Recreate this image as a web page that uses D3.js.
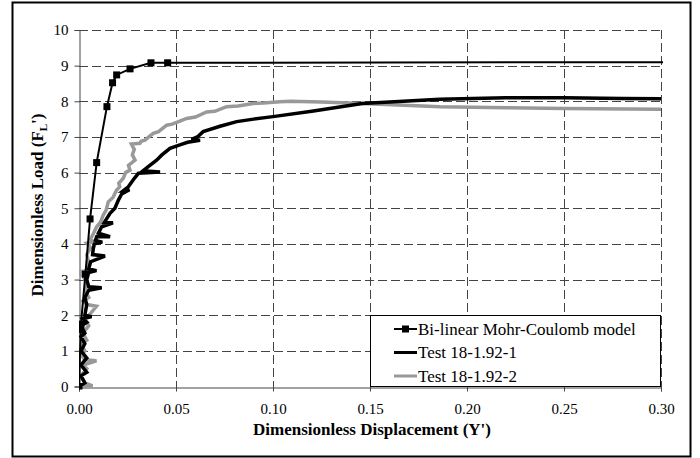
<!DOCTYPE html>
<html><head><meta charset="utf-8">
<script src="https://cdn.jsdelivr.net/npm/d3@7"></script>
<style>body{margin:0;background:#fff}svg{display:block}text{font-family:"Liberation Serif","Times New Roman",Times,serif}</style>
</head><body>
<svg id="c" width="700" height="458"></svg>
<script>
const xTicks = [0, 0.05, 0.10, 0.15, 0.20, 0.25, 0.30];
const yTicks = [0,1,2,3,4,5,6,7,8,9,10];
const seriesNames = ["Bi-linear Mohr-Coulomb model","Test 18-1.92-1","Test 18-1.92-2"];
const xTitle = "Dimensionless Displacement (Y')";
// model curve (markers), extends beyond 0.30 and is clipped
const modelX = [0, 0.0009, 0.001, 0.0033, 0.0057, 0.0091, 0.0144, 0.0173, 0.0194, 0.0263, 0.0371, 0.0457, 0.60];
const modelY = [0, 1.6, 1.75, 3.15, 4.7, 6.28, 7.85, 8.52, 8.74, 8.91, 9.08, 9.08, 9.12];
// Test 18-1.92-1
const test1X = [0,0.003,0.001,0.004,0.001,0.004,0.001,0.003,0.001,0.003,0.001,0.004,0.002,0.0065,0.003,0.004,0.003,0.005,0.0117,0.005,0.004,0.005,0.009,0.005,0.006,0.0134,0.007,0.0074,0.008,0.012,0.0085,0.0091,0.016,0.01,0.0117,0.0175,0.013,0.016,0.0185,0.0203,0.022,0.026,0.023,0.0254,0.028,0.0306,0.0418,0.033,0.0357,0.04,0.0426,0.0469,0.052,0.056,0.0624,0.058,0.061,0.064,0.0727,0.0813,0.09,0.1,0.12,0.146,0.186,0.22,0.25,0.28,0.30];
const test1Y = [0,0.1,0.3,0.4,0.6,0.8,1.0,1.2,1.4,1.5,1.7,1.8,1.9,1.96,2.0,2.3,2.5,2.7,2.77,2.8,3.0,3.2,3.25,3.3,3.5,3.66,3.7,3.88,4.0,4.05,4.1,4.2,4.2,4.3,4.48,4.59,4.6,4.86,5.0,5.23,5.4,5.52,5.5,5.6,5.8,5.98,6.02,6.05,6.17,6.35,6.49,6.68,6.78,6.85,6.91,6.93,7.0,7.15,7.3,7.43,7.5,7.57,7.72,7.94,8.06,8.1,8.1,8.08,8.07];
// Test 18-1.92-2
const test2X = [0.002,0.007,0.003,0.001,0.004,0.002,0.009,0.003,0.001,0.003,0.001,0.004,0.002,0.005,0.003,0.006,0.009,0.004,0.002,0.005,0.003,0.004,0.002,0,0.004,0.005,0.004,0.006,0.004,0.008,0.0057,0.0075,0.0091,0.011,0.0125,0.014,0.0151,0.0175,0.0194,0.021,0.0205,0.0228,0.024,0.0263,0.0255,0.0289,0.0275,0.0285,0.027,0.0314,0.032,0.034,0.036,0.0383,0.041,0.0452,0.048,0.051,0.0555,0.06,0.0658,0.07,0.0761,0.082,0.0897,0.095,0.1036,0.109,0.125,0.146,0.186,0.22,0.25,0.30];
const test2Y = [0,0.02,0.1,0.3,0.5,0.6,0.72,0.75,0.9,1.0,1.2,1.3,1.5,1.7,1.9,2.05,2.25,2.3,2.4,2.5,2.7,2.9,3.1,3.22,3.25,3.5,3.7,3.9,4.02,4.06,4.11,4.3,4.48,4.6,4.81,4.95,5.18,5.3,5.51,5.6,5.7,5.84,6.0,6.07,6.2,6.35,6.5,6.65,6.8,6.82,6.88,6.91,7.0,7.1,7.15,7.33,7.36,7.42,7.52,7.56,7.7,7.72,7.85,7.87,7.94,7.95,7.99,8.0,7.98,7.94,7.85,7.82,7.8,7.78];

const svg = d3.select("#c");
const L = 79, R = 661, T = 30, B = 386.5;
const x = d3.scaleLinear().domain([0, 0.30]).range([L, R]);
const y = d3.scaleLinear().domain([0, 10]).range([B, T]);
const serif = '"Liberation Serif","Times New Roman",Times,serif';

// outer frame
svg.append("rect").attr("x",12.5).attr("y",2.5).attr("width",678).attr("height",454)
  .attr("fill","#fff").attr("stroke","#000").attr("stroke-width",2);

// grid
const grid = svg.append("g").attr("stroke","#444").attr("stroke-width",1).attr("stroke-dasharray","9,4");
grid.selectAll("line.h").data(yTicks.filter(d=>d>0)).join("line")
  .attr("x1",L).attr("x2",R).attr("y1",d=>Math.round(y(d))+0.5).attr("y2",d=>Math.round(y(d))+0.5);
grid.selectAll("line.v").data(xTicks.filter(d=>d>0)).join("line")
  .attr("y1",T).attr("y2",B).attr("x1",d=>Math.round(x(d))+0.5).attr("x2",d=>Math.round(x(d))+0.5);

// axes
const yAxis = svg.append("g").attr("transform",`translate(${L+0.5},0)`)
  .call(d3.axisLeft(y).tickValues(yTicks).tickSize(5).tickPadding(6).tickFormat(d3.format("d")));
const xAxis = svg.append("g").attr("transform",`translate(0,${Math.round(B)+0.5})`)
  .call(d3.axisBottom(x).tickValues(xTicks).tickSize(4).tickPadding(12).tickFormat(d3.format(".2f")));
[yAxis, xAxis].forEach(a=>{
  a.attr("font-family",null);
  a.select(".domain").attr("stroke","#444");
  a.selectAll(".tick line").attr("stroke","#444");
  a.selectAll("text").style("font-family",serif).attr("font-size",15).attr("fill","#000");
});
xAxis.selectAll(".tick line").attr("y1",-4);

// clip
svg.append("clipPath").attr("id","pc").append("rect").attr("x",L).attr("y",T-3).attr("width",R-L+2).attr("height",B-T+6);
const plot = svg.append("g").attr("clip-path","url(#pc)");
const line = d3.line().x(d=>x(d[0])).y(d=>y(d[1]));
const t1 = test1X.map((v,i)=>[v,test1Y[i]]);
const t2 = test2X.map((v,i)=>[v,test2Y[i]]);
const md = modelX.map((v,i)=>[v,modelY[i]]);
plot.append("path").datum(t2).attr("d",line).attr("fill","none").attr("stroke","#999").attr("stroke-width",3.5).attr("stroke-linejoin","miter");
plot.append("path").datum(t1).attr("d",line).attr("fill","none").attr("stroke","#000").attr("stroke-width",3.5).attr("stroke-linejoin","miter");
plot.append("path").datum(md).attr("d",line).attr("fill","none").attr("stroke","#000").attr("stroke-width",2);
plot.selectAll("rect.m").data(md).join("rect").attr("class","m")
  .attr("x",d=>x(d[0])-3.5).attr("y",d=>y(d[1])-3.5).attr("width",7).attr("height",7).attr("fill","#000");

// legend
const lg = svg.append("g");
lg.append("rect").attr("x",370.5).attr("y",315.5).attr("width",290).attr("height",71).attr("fill","#fff").attr("stroke","#000").attr("stroke-width",1);
const lgY = [329, 352.5, 376];
const lgCol = ["#000","#000","#999"];
const lgW = [2,3,3];
seriesNames.forEach((n,i)=>{
  lg.append("line").attr("x1",394).attr("x2",417).attr("y1",lgY[i]).attr("y2",lgY[i]).attr("stroke",lgCol[i]).attr("stroke-width",lgW[i]);
  if(i===0) lg.append("rect").attr("x",402).attr("y",lgY[i]-3.5).attr("width",7).attr("height",7).attr("fill","#000");
  lg.append("text").attr("x",418).attr("y",lgY[i]).attr("dy","0.35em").style("font-family",serif).attr("font-size",17).text(n);
});

// axis titles
svg.append("text").attr("x",372).attr("y",435).attr("text-anchor","middle")
  .style("font-family",serif).attr("font-weight","bold").attr("font-size",17).text(xTitle);
const yt = svg.append("text").attr("transform","translate(43,205) rotate(-90)").attr("text-anchor","middle")
  .style("font-family",serif).attr("font-weight","bold").attr("font-size",17);
yt.append("tspan").text("Dimensionless Load (F");
yt.append("tspan").attr("font-size",11).attr("dy",4).text("L");
yt.append("tspan").attr("dy",-4).text("')");
</script>
</body></html>
